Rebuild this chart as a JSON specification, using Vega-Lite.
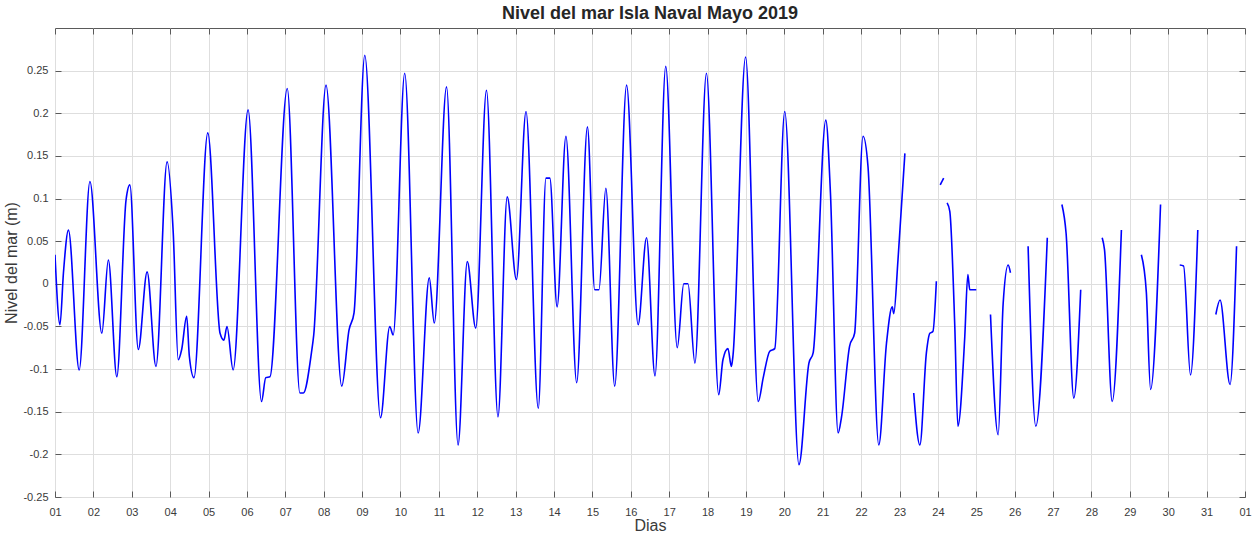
{
  "$schema": "https://vega.github.io/schema/vega-lite/v6.json",
  "autosize": "none",
  "width": 1190,
  "height": 469,
  "padding": {"left": 55, "top": 28, "right": 9, "bottom": 38},
  "background": "white",
  "title": {"text": "Nivel del mar Isla Naval Mayo 2019", "font": "Liberation Sans", "fontSize": 18, "fontWeight": "bold", "color": "#262626", "offset": 5, "anchor": "middle"},
  "config": {
    "view": {"stroke": "#5a5a5a", "strokeWidth": 1},
    "axis": {"labelFont": "Liberation Sans", "titleFont": "Liberation Sans", "labelColor": "#3a3a3a", "titleColor": "#3a3a3a", "labelFontSize": 11, "titleFontSize": 16, "titleFontWeight": "normal", "domain": false, "tickColor": "#5a5a5a", "tickSize": -6, "gridColor": "#dedede", "gridWidth": 1}
  },
  "data": {"values": [
    {"d": 1.00, "v": 0.034, "s": 1}, {"d": 1.13, "v": -0.048, "s": 1}, {"d": 1.22, "v": 0.013, "s": 1}, {"d": 1.35, "v": 0.063, "s": 1},
    {"d": 1.63, "v": -0.101, "s": 1}, {"d": 1.91, "v": 0.12, "s": 1}, {"d": 2.22, "v": -0.058, "s": 1}, {"d": 2.39, "v": 0.028, "s": 1},
    {"d": 2.61, "v": -0.109, "s": 1}, {"d": 2.85, "v": 0.098, "s": 1}, {"d": 2.95, "v": 0.116, "s": 1}, {"d": 3.17, "v": -0.077, "s": 1},
    {"d": 3.40, "v": 0.014, "s": 1}, {"d": 3.63, "v": -0.097, "s": 1}, {"d": 3.92, "v": 0.143, "s": 1}, {"d": 4.08, "v": 0.06, "s": 1},
    {"d": 4.21, "v": -0.089, "s": 1}, {"d": 4.30, "v": -0.077, "s": 1}, {"d": 4.43, "v": -0.038, "s": 1}, {"d": 4.50, "v": -0.085, "s": 1},
    {"d": 4.62, "v": -0.11, "s": 1}, {"d": 4.98, "v": 0.177, "s": 1}, {"d": 5.30, "v": -0.058, "s": 1}, {"d": 5.40, "v": -0.066, "s": 1},
    {"d": 5.48, "v": -0.05, "s": 1}, {"d": 5.64, "v": -0.101, "s": 1}, {"d": 6.03, "v": 0.204, "s": 1}, {"d": 6.38, "v": -0.138, "s": 1},
    {"d": 6.49, "v": -0.11, "s": 1}, {"d": 6.60, "v": -0.109, "s": 1}, {"d": 7.05, "v": 0.229, "s": 1}, {"d": 7.38, "v": -0.128, "s": 1},
    {"d": 7.47, "v": -0.128, "s": 1}, {"d": 7.68, "v": -0.081, "s": 1}, {"d": 7.74, "v": -0.06, "s": 1}, {"d": 8.06, "v": 0.233, "s": 1},
    {"d": 8.47, "v": -0.12, "s": 1}, {"d": 8.66, "v": -0.054, "s": 1}, {"d": 8.79, "v": -0.034, "s": 1}, {"d": 9.07, "v": 0.268, "s": 1},
    {"d": 9.48, "v": -0.157, "s": 1}, {"d": 9.72, "v": -0.05, "s": 1}, {"d": 9.81, "v": -0.06, "s": 1}, {"d": 10.11, "v": 0.247, "s": 1},
    {"d": 10.46, "v": -0.175, "s": 1}, {"d": 10.75, "v": 0.007, "s": 1}, {"d": 10.88, "v": -0.046, "s": 1}, {"d": 11.20, "v": 0.231, "s": 1},
    {"d": 11.50, "v": -0.189, "s": 1}, {"d": 11.74, "v": 0.026, "s": 1}, {"d": 11.96, "v": -0.052, "s": 1}, {"d": 12.24, "v": 0.227, "s": 1},
    {"d": 12.54, "v": -0.156, "s": 1}, {"d": 12.78, "v": 0.102, "s": 1}, {"d": 13.02, "v": 0.005, "s": 1}, {"d": 13.27, "v": 0.202, "s": 1},
    {"d": 13.59, "v": -0.146, "s": 1}, {"d": 13.79, "v": 0.124, "s": 1}, {"d": 13.89, "v": 0.124, "s": 1}, {"d": 14.08, "v": -0.027, "s": 1},
    {"d": 14.31, "v": 0.173, "s": 1}, {"d": 14.59, "v": -0.116, "s": 1}, {"d": 14.87, "v": 0.184, "s": 1}, {"d": 15.06, "v": -0.007, "s": 1},
    {"d": 15.17, "v": -0.007, "s": 1}, {"d": 15.35, "v": 0.112, "s": 1}, {"d": 15.58, "v": -0.12, "s": 1}, {"d": 15.89, "v": 0.233, "s": 1},
    {"d": 16.19, "v": -0.048, "s": 1}, {"d": 16.41, "v": 0.054, "s": 1}, {"d": 16.63, "v": -0.108, "s": 1}, {"d": 16.91, "v": 0.255, "s": 1},
    {"d": 17.21, "v": -0.075, "s": 1}, {"d": 17.38, "v": 0.0, "s": 1}, {"d": 17.49, "v": 0.0, "s": 1}, {"d": 17.67, "v": -0.093, "s": 1},
    {"d": 17.97, "v": 0.247, "s": 1}, {"d": 18.29, "v": -0.13, "s": 1}, {"d": 18.40, "v": -0.089, "s": 1}, {"d": 18.53, "v": -0.076, "s": 1},
    {"d": 18.62, "v": -0.097, "s": 1}, {"d": 18.66, "v": -0.085, "s": 1}, {"d": 18.99, "v": 0.266, "s": 1}, {"d": 19.32, "v": -0.138, "s": 1},
    {"d": 19.45, "v": -0.11, "s": 1}, {"d": 19.62, "v": -0.079, "s": 1}, {"d": 19.75, "v": -0.076, "s": 1}, {"d": 20.01, "v": 0.202, "s": 1},
    {"d": 20.38, "v": -0.212, "s": 1}, {"d": 20.64, "v": -0.093, "s": 1}, {"d": 20.75, "v": -0.081, "s": 1}, {"d": 21.08, "v": 0.192, "s": 1},
    {"d": 21.20, "v": 0.107, "s": 1}, {"d": 21.40, "v": -0.175, "s": 1}, {"d": 21.49, "v": -0.156, "s": 1}, {"d": 21.70, "v": -0.073, "s": 1},
    {"d": 21.83, "v": -0.058, "s": 1}, {"d": 22.05, "v": 0.173, "s": 1}, {"d": 22.18, "v": 0.137, "s": 1}, {"d": 22.46, "v": -0.189, "s": 1},
    {"d": 22.66, "v": -0.07, "s": 1}, {"d": 22.81, "v": -0.027, "s": 1}, {"d": 22.85, "v": -0.035, "s": 1}, {"d": 22.96, "v": 0.028, "s": 1},
    {"d": 23.14, "v": 0.153, "s": 1},
    {"d": 23.37, "v": -0.128, "s": 2}, {"d": 23.53, "v": -0.189, "s": 2}, {"d": 23.70, "v": -0.081, "s": 2}, {"d": 23.79, "v": -0.058, "s": 2},
    {"d": 23.87, "v": -0.056, "s": 2}, {"d": 23.96, "v": 0.003, "s": 2},
    {"d": 24.06, "v": 0.116, "s": 3}, {"d": 24.15, "v": 0.124, "s": 3},
    {"d": 24.24, "v": 0.095, "s": 4}, {"d": 24.31, "v": 0.085, "s": 4}, {"d": 24.44, "v": -0.05, "s": 4}, {"d": 24.52, "v": -0.167, "s": 4},
    {"d": 24.70, "v": -0.062, "s": 4}, {"d": 24.78, "v": 0.011, "s": 4}, {"d": 24.83, "v": -0.007, "s": 4}, {"d": 25.00, "v": -0.007, "s": 4},
    {"d": 25.37, "v": -0.036, "s": 5}, {"d": 25.57, "v": -0.177, "s": 5}, {"d": 25.70, "v": -0.023, "s": 5}, {"d": 25.83, "v": 0.022, "s": 5},
    {"d": 25.89, "v": 0.013, "s": 5},
    {"d": 26.35, "v": 0.044, "s": 6}, {"d": 26.55, "v": -0.167, "s": 6}, {"d": 26.85, "v": 0.054, "s": 6},
    {"d": 27.23, "v": 0.093, "s": 7}, {"d": 27.34, "v": 0.059, "s": 7}, {"d": 27.54, "v": -0.134, "s": 7}, {"d": 27.72, "v": -0.007, "s": 7},
    {"d": 28.28, "v": 0.054, "s": 8}, {"d": 28.34, "v": 0.04, "s": 8}, {"d": 28.54, "v": -0.138, "s": 8}, {"d": 28.78, "v": 0.063, "s": 8},
    {"d": 29.30, "v": 0.034, "s": 9}, {"d": 29.43, "v": -0.01, "s": 9}, {"d": 29.54, "v": -0.124, "s": 9}, {"d": 29.80, "v": 0.093, "s": 9},
    {"d": 30.30, "v": 0.022, "s": 10}, {"d": 30.40, "v": 0.021, "s": 10}, {"d": 30.58, "v": -0.107, "s": 10}, {"d": 30.77, "v": 0.063, "s": 10},
    {"d": 31.24, "v": -0.036, "s": 11}, {"d": 31.35, "v": -0.019, "s": 11}, {"d": 31.61, "v": -0.118, "s": 11}, {"d": 31.78, "v": 0.044, "s": 11}
  ]},
  "layer": [
    {
      "mark": {"type": "line", "color": "#0000ff", "strokeWidth": 1.6, "interpolate": "monotone", "clip": true},
      "encoding": {
        "x": {"field": "d", "type": "quantitative", "scale": {"domain": [1, 32], "nice": false, "zero": false},
          "axis": {"title": "Dias", "values": [1,2,3,4,5,6,7,8,9,10,11,12,13,14,15,16,17,18,19,20,21,22,23,24,25,26,27,28,29,30,31,32],
            "labelExpr": "datum.value == 32 ? '01' : (datum.value < 10 ? '0' + datum.value : '' + datum.value)", "labelPadding": 15, "titlePadding": 0, "grid": true, "labelFlush": false, "labelOverlap": false}},
        "y": {"field": "v", "type": "quantitative", "scale": {"domain": [-0.25, 0.3], "nice": false, "zero": false},
          "axis": {"title": "Nivel del mar (m)", "values": [-0.25,-0.2,-0.15,-0.1,-0.05,0,0.05,0.1,0.15,0.2,0.25],
            "labelExpr": "'' + datum.value", "labelPadding": 13, "titlePadding": 3, "grid": true, "labelFlush": false, "labelOverlap": false}},
        "detail": {"field": "s", "type": "nominal"}
      }
    },
    {
      "mark": {"type": "line", "strokeOpacity": 0, "interpolate": "monotone"},
      "encoding": {
        "x": {"field": "d", "type": "quantitative", "axis": {"orient": "top", "title": null, "labels": false, "grid": false, "values": [1,2,3,4,5,6,7,8,9,10,11,12,13,14,15,16,17,18,19,20,21,22,23,24,25,26,27,28,29,30,31,32]}},
        "y": {"field": "v", "type": "quantitative", "axis": {"orient": "right", "title": null, "labels": false, "grid": false, "values": [-0.25,-0.2,-0.15,-0.1,-0.05,0,0.05,0.1,0.15,0.2,0.25]}},
        "detail": {"field": "s", "type": "nominal"}
      }
    }
  ],
  "resolve": {"axis": {"x": "independent", "y": "independent"}}
}
